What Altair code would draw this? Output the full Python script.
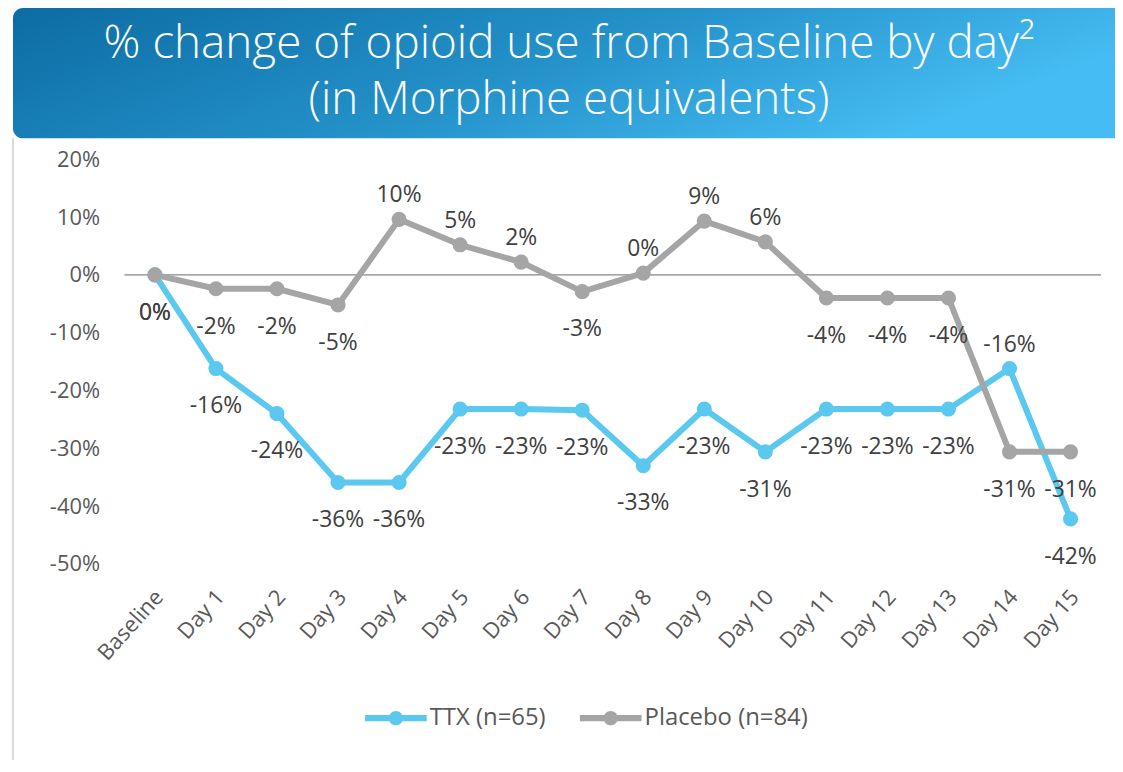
import altair as alt
import pandas as pd

# ---------------- data ----------------
categories = ["Baseline", "Day 1", "Day 2", "Day 3", "Day 4", "Day 5", "Day 6", "Day 7",
              "Day 8", "Day 9", "Day 10", "Day 11", "Day 12", "Day 13", "Day 14", "Day 15"]
ttx_values = [0, -16.2, -24.0, -35.9, -35.9, -23.2, -23.2, -23.4, -33.0, -23.2, -30.6,
              -23.2, -23.2, -23.2, -16.2, -42.2]
placebo_values = [0, -2.4, -2.4, -5.2, 9.6, 5.2, 2.2, -2.9, 0.3, 9.3, 5.7,
                  -4.0, -4.0, -4.0, -30.6, -30.6]
series_names = ["TTX (n=65)", "Placebo (n=84)"]
series_colors = ["#5BC8EF", "#A5A5A5"]
y_ticks = [-50, -40, -30, -20, -10, 0, 10, 20]
title_text = "% change of opioid use from Baseline by day\u00b2\n(in Morphine equivalents)"

# labels placed above their point (all others below)
labels_above = {
    "TTX (n=65)": ["Day 14"],
    "Placebo (n=84)": ["Day 4", "Day 5", "Day 6", "Day 8", "Day 9", "Day 10"],
}

rows = []
for name, vals in zip(series_names, [ttx_values, placebo_values]):
    for cat, v in zip(categories, vals):
        rows.append({"day": cat, "series": name, "value": v,
                     "above": cat in labels_above[name]})
df = pd.DataFrame(rows)

FONT = "Open Sans"
W, H = 982, 407

x_enc = alt.X("day:N", sort=categories,
              scale=alt.Scale(type="point", padding=0.5),
              axis=alt.Axis(labelAngle=-48, labelAlign="right", labelBaseline="middle",
                            labelPadding=29, labelOffset=4, ticks=False, domain=False,
                            grid=False, title=None, labelFontSize=22,
                            labelColor="#595959", labelFont=FONT))
y_enc = alt.Y("value:Q", scale=alt.Scale(domain=[-50, 20], nice=False, zero=False),
              axis=alt.Axis(values=y_ticks, labelExpr="datum.value + '%'", ticks=False,
                            domain=False, grid=False, labelPadding=25, labelFontSize=22,
                            labelColor="#595959", labelFont=FONT, title=None))
color_scale = alt.Scale(domain=series_names, range=series_colors)

legend_path = ("M-1,-0.1H1V0.1H-1Z "
               "M-0.23,0A0.23,0.23 0 1 1 0.23,0A0.23,0.23 0 1 1 -0.23,0Z")
legend = alt.Legend(orient="none", legendX=242, legendY=531,
                    direction="horizontal", title=None,
                    symbolType=legend_path, symbolSize=3844,
                    symbolStrokeWidth=0, symbolOpacity=1,
                    labelFontSize=24, labelColor="#595959", labelLimit=400,
                    labelFont=FONT, columnPadding=34,
                    labelOffset=3, padding=0)

one = pd.DataFrame({"k": [0]})

gradient = alt.Gradient(
    gradient="linear",
    stops=[alt.GradientStop(color="#0C6CA3", offset=0),
           alt.GradientStop(color="#2491C9", offset=0.55),
           alt.GradientStop(color="#45BCF3", offset=1)],
    x1=0, x2=1, y1=0, y2=0.3,
)

banner = alt.Chart(one).mark_rect(fill=gradient, cornerRadiusTopLeft=10,
                                  cornerRadiusBottomLeft=10).encode(
    x=alt.value(-112), x2=alt.value(1010), y=alt.value(-152), y2=alt.value(-21))

title = alt.Chart(one).mark_text(align="center", baseline="alphabetic", fontSize=46,
                                 font=FONT, fontWeight=300, color="white",
                                 lineBreak="\n", lineHeight=57).encode(
    x=alt.value(447), y=alt.value(-102), text=alt.value(title_text))

card_border = alt.Chart(one).mark_rule(color="#DADADA", strokeWidth=2).encode(
    x=alt.value(-112), y=alt.value(-21), y2=alt.value(604))

zero_line = alt.Chart(one).mark_rule(color="#868686", strokeWidth=1.5).encode(
    y=alt.datum(0))

base = alt.Chart(df)

lines = base.mark_line(strokeWidth=6, strokeJoin="round").encode(
    x=x_enc, y=y_enc,
    color=alt.Color("series:N", scale=color_scale, legend=legend))

points = base.mark_point(filled=True, size=230, opacity=1).encode(
    x=x_enc, y=y_enc,
    color=alt.Color("series:N", scale=color_scale, legend=legend))

labels_below = base.transform_filter("!datum.above").transform_calculate(
    lab="round(datum.value) + '%'").mark_text(
    dy=38, fontSize=23, font=FONT, color="#404040").encode(
    x=x_enc, y=y_enc, text="lab:N")

labels_top = base.transform_filter("datum.above").transform_calculate(
    lab="round(datum.value) + '%'").mark_text(
    dy=-24, fontSize=23, font=FONT, color="#404040").encode(
    x=x_enc, y=y_enc, text="lab:N")

chart = alt.layer(banner, title, card_border, zero_line, lines, points,
                  labels_below, labels_top).properties(
    width=W, height=H,
    autosize=alt.AutoSizeParams(type="none"),
    padding={"left": 117, "top": 150, "right": 14, "bottom": 195},
    background="white",
).configure_view(stroke=None)

chart.save("out.html", embed_options={"renderer": "svg", "actions": False})
